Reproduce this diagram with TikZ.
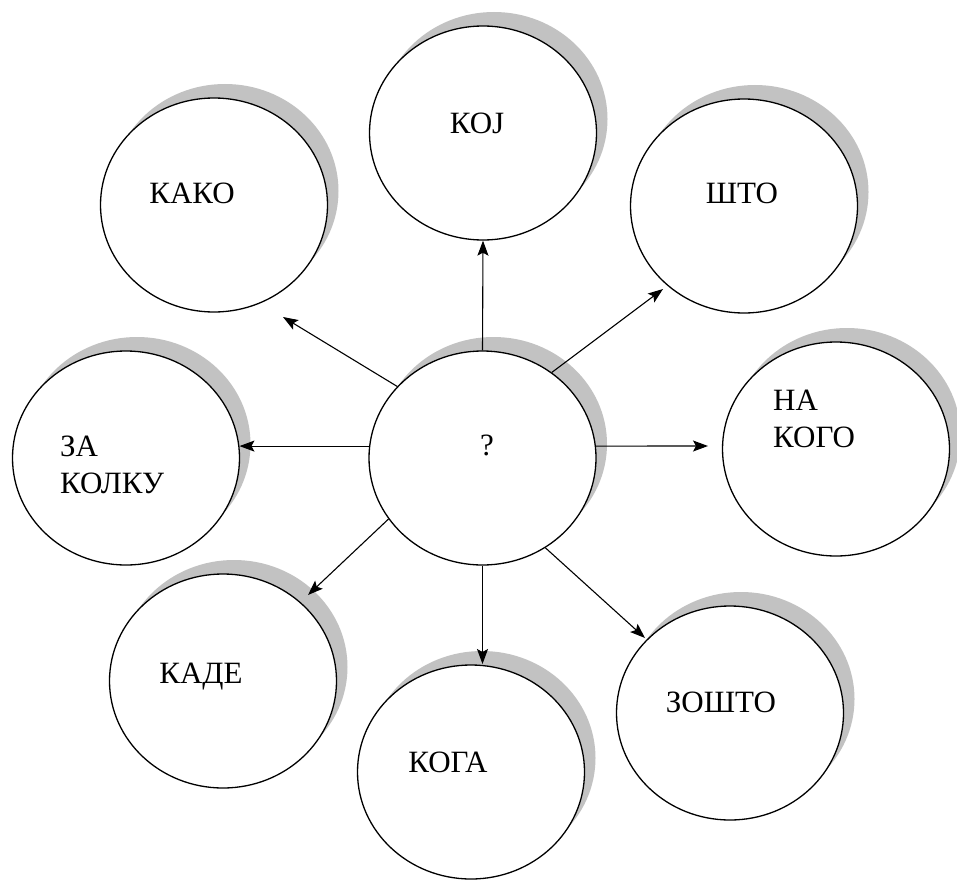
\documentclass[tikz,border=0pt]{standalone}
\usepackage{fontspec}
\setmainfont{Liberation Serif}
\usetikzlibrary{shapes.geometric,arrows.meta,shadows}
\begin{document}
\begin{tikzpicture}[x=1pt,y=-1pt,
  bub/.style={ellipse, draw=black, line width=1.3pt, fill=white,
    minimum width=227pt, minimum height=214pt, inner sep=0pt,
    drop shadow={shadow xshift=11pt, shadow yshift=14pt, fill=black!24, opacity=1}},
  lbl/.style={font=\fontsize{31}{37}\selectfont, inner sep=0pt},
  arr/.style={-{Stealth[length=15pt,width=11pt,inset=3pt]}, line width=1.1pt}]
\useasboundingbox (0,0) rectangle (957,880);
\fill[white] (0,0) rectangle (957,880);
% circles
\node[bub] (koj) at (483,133) {};
\node[bub] (kako) at (214,205) {};
\node[bub] (shto) at (744,206) {};
\node[bub] (c) at (482.5,458) {};
\node[bub] (za) at (126,458) {};
\node[bub] (nakogo) at (836,449) {};
\node[bub] (kade) at (223,681) {};
\node[bub] (koga) at (471,772) {};
\node[bub] (zoshto) at (730,713) {};
% labels
\node[lbl, anchor=base] (tkoj) at (477,133) {КОЈ};
\node[lbl, anchor=base] (tkako) at (192,203) {КАКО};
\node[lbl, anchor=base] (tshto) at (742,203) {ШТО};
\node[lbl, anchor=base] (tq) at (487,455) {?};
\node[lbl, anchor=west, align=left] (tza) at (60,465) {ЗА\\КОЛКУ};
\node[lbl, anchor=west, align=left] (tnak) at (773,418.5) {НА\\КОГО};
\node[lbl, anchor=base] (tkade) at (201,683) {КАДЕ};
\node[lbl, anchor=base] (tkoga) at (448,772) {КОГА};
\node[lbl, anchor=base] (tzo) at (721,712) {ЗОШТО};
% arrow ends
\coordinate (ekako) at (283,317);
\coordinate (eshto) at (663,289);
\coordinate (enak) at (708,446);
\coordinate (ekade) at (308,595);
\coordinate (ekoga) at (482.5,664);
\coordinate (ezo) at (645,638);
% arrows
\draw[arr] (c.north) -- (koj.south);
\draw[arr] (c.140) -- (ekako);
\draw[arr] (c.51) -- (eshto);
\draw[arr] (c.174) -- (za.6);
\draw[arr] (c.6) -- (enak);
\draw[arr] (c.213) -- (ekade);
\draw[arr] (c.south) -- (ekoga);
\draw[arr] (c.-55) -- (ezo);
\end{tikzpicture}
\end{document}
